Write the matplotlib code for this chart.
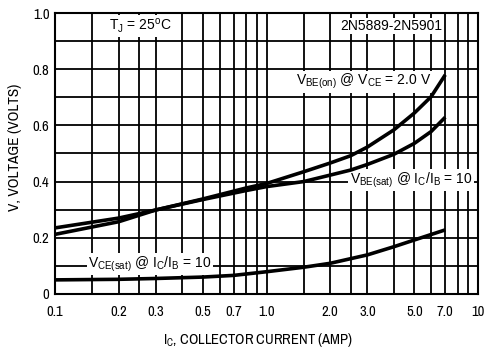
import matplotlib
matplotlib.use("Agg")
import matplotlib.pyplot as plt
from matplotlib import font_manager
from matplotlib.ticker import FixedLocator, NullLocator

# кривые 2N5889-2N5901, Tj = 25 C
ic_vbe = [0.1, 0.2, 0.3, 0.5, 0.8, 1.0, 1.5, 2.0, 2.5, 3.0, 4.0, 5.0, 6.0, 7.0]
vbe_on = [0.212, 0.257, 0.299, 0.338, 0.377, 0.393, 0.435, 0.466, 0.492, 0.523, 0.584, 0.644, 0.702, 0.78]
vbe_sat = [0.235, 0.270, 0.299, 0.336, 0.368, 0.382, 0.400, 0.423, 0.441, 0.461, 0.497, 0.536, 0.578, 0.629]

ic_vce = [0.1, 0.2, 0.3, 0.5, 0.7, 1.0, 1.5, 2.0, 3.0, 4.0, 5.0, 7.0]
vce_sat = [0.050, 0.052, 0.055, 0.060, 0.066, 0.079, 0.095, 0.109, 0.139, 0.168, 0.192, 0.228]

grid_x = [0.1, 0.15, 0.2, 0.25, 0.3, 0.4, 0.5, 0.6, 0.7, 0.8, 0.9,
          1.0, 1.5, 2.0, 2.5, 3.0, 4.0, 5.0, 6.0, 7.0, 8.0, 9.0, 10.0]
xticks = [0.1, 0.2, 0.3, 0.5, 0.7, 1.0, 2.0, 3.0, 5.0, 7.0, 10.0]
xtick_labels = ["0.1", "0.2", "0.3", "0.5", "0.7", "1.0", "2.0", "3.0", "5.0", "7.0", "10"]
yticks = [0, 0.2, 0.4, 0.6, 0.8, 1.0]
ytick_labels = ["0", "0.2", "0.4", "0.6", "0.8", "1.0"]

# узкий шрифт для осей, если есть
names = sorted({f.name for f in font_manager.fontManager.ttflist})
narrow = [n for n in names if 'Narrow' in n or 'Condensed' in n]
fam = narrow[0] if narrow else 'DejaVu Sans'
plt.rcParams['font.family'] = [fam, 'DejaVu Sans']
plt.rcParams['font.stretch'] = 'condensed'
plt.rcParams['mathtext.fontset'] = 'custom'
plt.rcParams['mathtext.rm'] = 'Liberation Sans'
plt.rcParams['mathtext.it'] = 'Liberation Sans'

fig = plt.figure(figsize=(4.85, 3.52), dpi=100)
ax = fig.add_axes([0.1134, 0.165, 0.8722, 0.798])

ax.set_xscale('log')
ax.set_xlim(0.1, 10)
ax.set_ylim(0, 1.0)

# сетка
for gx in grid_x:
    ax.axvline(gx, color='black', lw=1.3, zorder=1)
for gy in [0.1, 0.2, 0.3, 0.4, 0.5, 0.6, 0.7, 0.8, 0.9]:
    ax.axhline(gy, color='black', lw=1.3, zorder=1)

# подписи на поле графика
box = dict(facecolor='white', edgecolor='none', pad=1.0)
lbl = dict(fontsize=10, family=['Liberation Sans', 'DejaVu Sans'], stretch='normal',
           ha='center', va='center', bbox=box, zorder=2)
ax.text(0.252, 0.954, r"T$_\mathregular{J}$ = 25$^\mathregular{o}$C", **lbl)
ax.text(3.88, 0.954, "2N5889-2N5901", **lbl)
ax.text(2.89, 0.756, r"V$_\mathregular{BE(on)}$ @ V$_\mathregular{CE}$ = 2.0 V", **lbl)
ax.text(4.82, 0.406, r"V$_\mathregular{BE(sat)}$ @ I$_\mathregular{C}$/I$_\mathregular{B}$ = 10", **lbl)
ax.text(0.281, 0.107, r"V$_\mathregular{CE(sat)}$ @ I$_\mathregular{C}$/I$_\mathregular{B}$ = 10", **lbl)

ax.plot(ic_vbe, vbe_on, color='black', lw=2.6, zorder=3, solid_capstyle='butt')
ax.plot(ic_vbe, vbe_sat, color='black', lw=2.6, zorder=3, solid_capstyle='butt')
ax.plot(ic_vce, vce_sat, color='black', lw=2.6, zorder=3, solid_capstyle='butt')

ax.xaxis.set_major_locator(FixedLocator(xticks))
ax.xaxis.set_minor_locator(NullLocator())
ax.set_xticklabels(xtick_labels, fontweight='bold')
ax.set_yticks(yticks)
ax.set_yticklabels(ytick_labels, fontweight='bold')
ax.tick_params(length=0, labelsize=10.5)
ax.tick_params(axis='x', pad=8)
ax.tick_params(axis='y', pad=4)

for sp in ax.spines.values():
    sp.set_linewidth(1.5)

ax.set_xlabel(r"I$_\mathregular{C}$, COLLECTOR CURRENT (AMP)", fontsize=10.5,
              fontweight='bold', va='center')
ax.set_ylabel("V, VOLTAGE (VOLTS)", fontsize=11, fontweight='bold', va='center')
ax.xaxis.set_label_coords(0.48, -0.164)
ax.yaxis.set_label_coords(-0.095, 0.52)

fig.savefig("out.png", dpi=100)
